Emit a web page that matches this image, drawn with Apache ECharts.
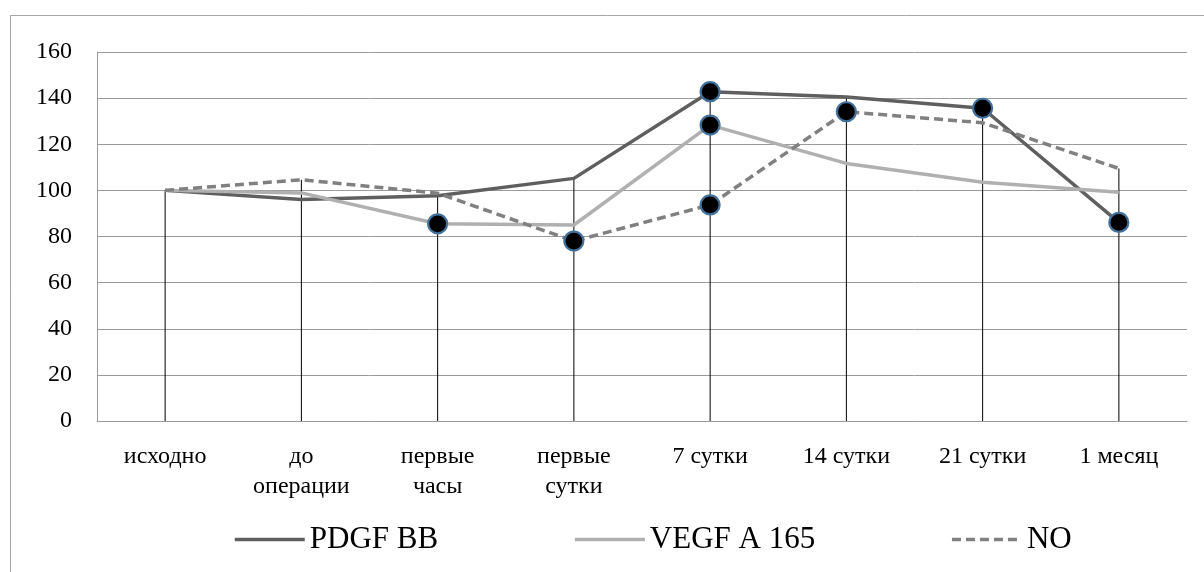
<!DOCTYPE html>
<html>
<head>
<meta charset="utf-8">
<script src="https://cdn.jsdelivr.net/npm/echarts@6/dist/echarts.min.js"></script>
<style>
  html, body { margin: 0; padding: 0; background: #fff; }
  #chart { width: 1204px; height: 572px; }
</style>
</head>
<body>
<div id="chart"></div>
<script>
// Time points of the study
const categories = ['исходно', 'до\nоперации', 'первые\nчасы', 'первые\nсутки', '7 сутки', '14 сутки', '21 сутки', '1 месяц'];

// Relative levels, % of baseline
const pdgfValues = [100, 96, 97.7, 105.2, 142.8, 140.5, 135.6, 86.1];
const vegfValues = [100, 98.9, 85.5, 85, 128.3, 111.7, 103.5, 99.2];
const noValues = [100, 104.6, 98.8, 78, 93.7, 134.1, 129.3, 109.5];

// Indices of highlighted points for each series
const pdgfMarks = [4, 6, 7];
const vegfMarks = [2, 4];
const noMarks = [3, 4, 5];

const seriesNames = ['PDGF BB', 'VEGF A 165', 'NO'];
const yTicks = { min: 0, max: 160, interval: 20 };

const FONT = "'Liberation Serif', 'Times New Roman', serif";

const markStyle = { color: '#000000', borderColor: '#41719c', borderWidth: 2.2 };

function withMarks(values, marks) {
  return values.map((v, i) => marks.includes(i)
    ? { value: v, symbol: 'circle', symbolSize: 19, itemStyle: markStyle }
    : v);
}

// Drop line height: the highest value at each time point
const dropTops = categories.map((_, i) => Math.max(pdgfValues[i], vegfValues[i], noValues[i]));

const chart = echarts.init(document.getElementById('chart'), null, { renderer: 'canvas' });

const lineBase = {
  type: 'line',
  symbol: 'none',
  showSymbol: true,
  showAllSymbol: true,
  silent: true,
  z: 3
};

chart.setOption({
  animation: false,
  backgroundColor: '#ffffff',
  graphic: [{
    type: 'rect',
    shape: { x: 10.5, y: 15.5, width: 1300, height: 700 },
    style: { fill: 'none', stroke: '#a6a6a6', lineWidth: 1 },
    silent: true,
    z: 0
  }],
  grid: { left: 97, right: 17, top: 52, bottom: 151, containLabel: false },
  legend: {
    data: seriesNames,
    left: 233,
    top: 524,
    padding: 0,
    orient: 'horizontal',
    itemWidth: 70,
    itemHeight: 34,
    itemGap: 135,
    selectedMode: false,
    itemStyle: { opacity: 0 },
    lineStyle: { width: 3.5 },
    textStyle: { fontFamily: FONT, fontSize: 31, color: '#000000' }
  },
  xAxis: {
    type: 'category',
    data: categories,
    boundaryGap: true,
    axisLine: { show: true, lineStyle: { color: '#9b9b9b', width: 1 } },
    axisTick: { show: false },
    splitLine: { show: false },
    axisLabel: {
      interval: 0,
      margin: 21,
      fontFamily: FONT,
      fontSize: 24,
      lineHeight: 30,
      color: '#000000',
      align: 'center'
    }
  },
  yAxis: {
    type: 'value',
    min: yTicks.min,
    max: yTicks.max,
    interval: yTicks.interval,
    axisLine: { show: true, lineStyle: { color: '#9b9b9b', width: 1 } },
    axisTick: { show: false },
    splitLine: { show: true, lineStyle: { color: '#9b9b9b', width: 1 } },
    axisLabel: {
      margin: 25,
      fontFamily: FONT,
      fontSize: 24,
      color: '#000000'
    }
  },
  series: [
    {
      name: 'drop',
      type: 'custom',
      silent: true,
      z: 2,
      data: dropTops.map((v, i) => [i, v]),
      renderItem: function (params, api) {
        const i = api.value(0);
        const p0 = api.coord([i, 0]);
        const p1 = api.coord([i, api.value(1)]);
        return {
          type: 'line',
          shape: { x1: p0[0], y1: p0[1], x2: p1[0], y2: p1[1] },
          style: { stroke: '#000000', lineWidth: 1 }
        };
      }
    },
    Object.assign({}, lineBase, {
      name: 'PDGF BB',
      color: '#5f5f5f',
      lineStyle: { color: '#5f5f5f', width: 3.5 },
      data: withMarks(pdgfValues, pdgfMarks)
    }),
    Object.assign({}, lineBase, {
      name: 'VEGF A 165',
      color: '#b0b0b0',
      lineStyle: { color: '#b0b0b0', width: 3.5 },
      data: withMarks(vegfValues, vegfMarks)
    }),
    Object.assign({}, lineBase, {
      name: 'NO',
      color: '#808080',
      lineStyle: { color: '#808080', width: 3.5, type: [9, 5] },
      data: withMarks(noValues, noMarks)
    })
  ]
});
</script>
</body>
</html>
